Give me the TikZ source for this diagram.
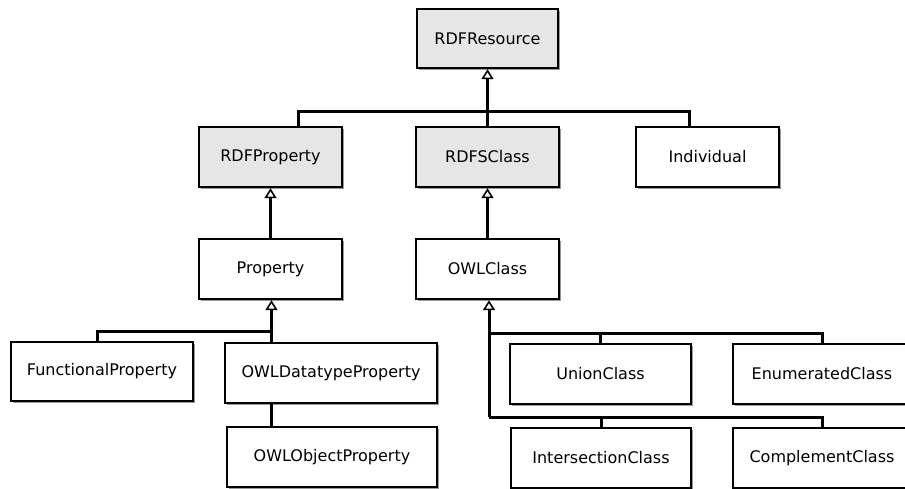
\documentclass[tikz,border=0pt]{standalone}
\usepackage{fontspec}
\setmainfont{DejaVu Sans}
\usepackage{tikz}
\usetikzlibrary{arrows.meta, positioning, shadows}
\definecolor{umlgray}{HTML}{E6E6E6}
\definecolor{umlshade}{HTML}{9A9A9A}

\begin{document}
\begin{tikzpicture}[x=1pt, y=-1pt, font=\fontsize{16}{19}\selectfont,
    cls/.style={draw=black, line width=2.4pt, fill=white, minimum width=143pt, minimum height=60pt,
      inner sep=0pt, drop shadow={shadow xshift=2pt, shadow yshift=-2pt, fill=umlshade, opacity=1}},
    rdf/.style={cls, fill=umlgray},
    link/.style={line width=3pt},
    gen/.style={link, -{Triangle[open, length=10pt, width=12pt, line width=1.6pt]}}]
      \clip (0,0) rectangle (905,489);
      % radice
      \node[rdf, minimum width=141pt, minimum height=59pt] (res) at (487.5,38.5) {RDFResource};
      % livello rdf
      \node[rdf] (rprop) at (270.5,157) {RDFProperty};
      \node[rdf] (rcls) at (487.5,157) {RDFSClass};
      \node[cls] (ind) at (707.5,157) {Individual};
      % livello owl
      \node[cls] (prop) at (270.5,269) {Property};
      \node[cls] (owlc) at (487.5,269) {OWLClass};
      % proprieta
      \node[cls, minimum width=182pt, minimum height=59pt] (func) at (102,371.5) {FunctionalProperty};
      \node[cls, minimum width=212pt] (dtp) at (331,373) {OWLDatatypeProperty};
      \node[cls, minimum width=210pt] (objp) at (332,457) {OWLObjectProperty};
      % classi
      \node[cls, minimum width=181pt] (union) at (600.5,374) {UnionClass};
      \node[cls, minimum width=178pt] (enum) at (822,374) {EnumeratedClass};
      \node[cls, minimum width=180pt] (inter) at (601,458) {IntersectionClass};
      \node[cls, minimum width=178pt] (compl) at (822,458) {ComplementClass};
      % giunzioni
      \coordinate (top) at (487.5,112);
      \coordinate (pj) at (271.5,331);
      \coordinate (cj1) at (489,333);
      \coordinate (cj2) at (489,417);
      % rami
      \draw[gen] (top) -- (res.south);
      \draw[link] ([xshift=27.5pt]rprop.north) |- (top) -| ([xshift=-18.5pt]ind.north);
      \draw[link] (rcls.north) -- (top);
      \draw[gen] (prop.north) -- (rprop.south);
      \draw[gen] (owlc.north) -- (rcls.south);
      \draw[gen] (dtp.north -| pj) -- (prop.south -| pj);
      \draw[link] ([xshift=-5pt]func.north) |- (pj);
      \draw[link] (dtp.south -| pj) -- (objp.north -| pj);
      \draw[gen] (cj2) -- (owlc.south -| cj2);
      \draw[link] (union.north) |- (cj1) -| (enum.north);
      \draw[link] (inter.north) |- (cj2) -| (compl.north);
    \end{tikzpicture}
\end{document}
